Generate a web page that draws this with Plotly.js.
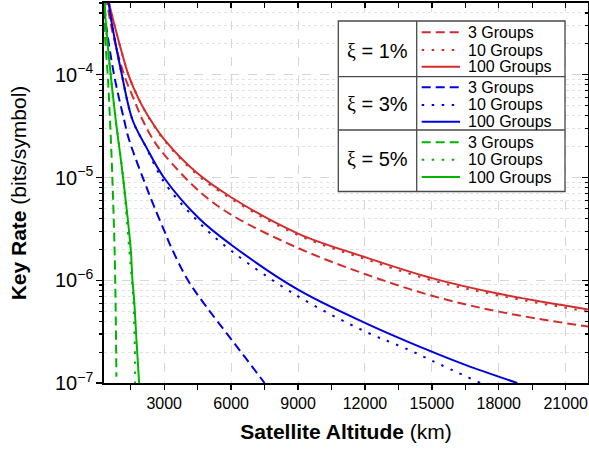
<!DOCTYPE html>
<html><head><meta charset="utf-8">
<script src="https://cdn.plot.ly/plotly-3.0.1.min.js"></script>
<style>html,body{margin:0;padding:0;background:#fff}</style>
</head><body><div id="chart" style="width:589px;height:456px"></div>
<script>
// ---- data ----
const r100Alt = [450, 525, 825, 1125, 1395, 1875, 2325, 3000, 4425, 6000, 9000, 12000, 15000, 18000, 22000];
const r100Val = [6e-4, 5e-4, 2.74e-4, 1.57e-4, 1e-4, 5.7e-5, 3.82e-5, 2.35e-5, 1.13e-5, 6.43e-6, 2.85e-6, 1.68e-6, 1.05e-6, 7.4e-7, 5.2e-7];
const r10Alt = [450, 525, 825, 1125, 1395, 1875, 2325, 3000, 4425, 6000, 9000, 12000, 15000, 18000, 22000];
const r10Val = [6e-4, 5e-4, 2.74e-4, 1.57e-4, 1e-4, 5.7e-5, 3.78e-5, 2.3e-5, 1.09e-5, 6.2e-6, 2.75e-6, 1.61e-6, 1.0e-6, 7.1e-7, 4.95e-7];
const r3Alt = [400, 450, 700, 1200, 1650, 2025, 2550, 3000, 4575, 6000, 9000, 12000, 15000, 18000, 22000];
const r3Val = [5.8e-4, 4.8e-4, 2.5e-4, 1e-4, 5.7e-5, 3.65e-5, 2.25e-5, 1.67e-5, 7.33e-6, 4.35e-6, 2.06e-6, 1.15e-6, 7.08e-7, 4.95e-7, 3.54e-7];

const b100Alt = [480, 555, 675, 1100, 1575, 2175, 3000, 4575, 6000, 9000, 12000, 14775, 16500, 18825];
const b100Val = [5.5e-4, 4.28e-4, 2.95e-4, 1e-4, 3.65e-5, 2.01e-5, 9.9e-6, 3.97e-6, 2.22e-6, 8.1e-7, 3.85e-7, 2.11e-7, 1.5e-7, 1e-7];
const b10Alt = [480, 555, 675, 1100, 1575, 2175, 3000, 4575, 6000, 9000, 12000, 13950, 15000, 17175];
const b10Val = [5.5e-4, 4.28e-4, 2.95e-4, 1e-4, 3.65e-5, 2.0e-5, 9.0e-6, 3.63e-6, 1.94e-6, 6.97e-7, 3.18e-7, 2.11e-7, 1.65e-7, 1e-7];
const b3Alt = [300, 345, 750, 1200, 1425, 2250, 2550, 3000, 3303, 4050, 4878, 6075, 7500];
const b3Val = [4.3e-4, 3.59e-4, 1e-4, 3.65e-5, 2.33e-5, 7.6e-6, 5.2e-6, 3.04e-6, 2.12e-6, 1.01e-6, 5.57e-7, 2.55e-7, 1e-7];

const g100Alt = [330, 405, 600, 825, 1155, 1500, 1575, 1650, 1755, 1875];
const g100Val = [5e-4, 2.74e-4, 1e-4, 3.65e-5, 1e-5, 1.99e-6, 1.01e-6, 6.47e-7, 2.64e-7, 1e-7];
const g10Alt = [330, 405, 600, 825, 1155, 1470, 1620, 1650, 1680, 1695];
const g10Val = [5e-4, 2.74e-4, 1e-4, 3.65e-5, 1e-5, 1.58e-6, 6.24e-7, 3.98e-7, 2.24e-7, 1e-7];
const g3Alt = [300, 390, 480, 560, 630, 690, 735, 775, 810, 830, 845, 855];
const g3Val = [3.2e-4, 1.7e-4, 9e-5, 4e-5, 1.8e-5, 8e-6, 4e-6, 2e-6, 8e-7, 4e-7, 2e-7, 1.15e-7];

const xTickVals = [3000, 6000, 9000, 12000, 15000, 18000, 21000];
const xTickText = ['3000', '6000', '9000', '12000', '15000', '18000', '21000'];
const groupLabels = ['3 Groups', '10 Groups', '100 Groups'];
const xiLabels = ['1%', '3%', '5%'];

// ---- styles ----
const RED = '#d42b2b', BLUE = '#0000e0', GREEN = '#00b400';
const DASH = '9px,5px', DOT = '2.5px,7.5px';
const LW = 2;
const FONT = 'Arial, "Liberation Sans", sans-serif';

function tr(x, y, color, dash) {
  return {x: x, y: y, type: 'scatter', mode: 'lines', hoverinfo: 'skip',
          line: {color: color, width: LW, dash: dash, shape: 'spline', smoothing: 1}, showlegend: false};
}
const traces = [
  tr(r3Alt, r3Val, RED, DASH), tr(r10Alt, r10Val, RED, DOT), tr(r100Alt, r100Val, RED, 'solid'),
  tr(b3Alt, b3Val, BLUE, DASH), tr(b10Alt, b10Val, BLUE, DOT), tr(b100Alt, b100Val, BLUE, 'solid'),
  tr(g3Alt, g3Val, GREEN, DASH), tr(g10Alt, g10Val, GREEN, DOT), tr(g100Alt, g100Val, GREEN, 'solid'),
  {x: [1000], y: [1e-5], xaxis: 'x2', yaxis: 'y', mode: 'markers', marker: {opacity: 0}, hoverinfo: 'skip', showlegend: false},
  {x: [1000], y: [1e-5], xaxis: 'x', yaxis: 'y2', mode: 'markers', marker: {opacity: 0}, hoverinfo: 'skip', showlegend: false}
];

// ---- legend (custom table) ----
const L = 104, PW = 484, T = 3, PH = 380;
const X = px => (px - L) / PW;
const Y = py => (T + PH - py) / PH;
const shapes = [];
const annotations = [];
const boxL = 338.3, boxR = 565, boxT = 21, boxB = 191.5, divX = 416.7;
const seps = [76.7, 130];
shapes.push({type: 'rect', xref: 'paper', yref: 'paper', x0: X(boxL), x1: X(boxR), y0: Y(boxB), y1: Y(boxT),
  fillcolor: 'white', line: {color: '#4a4a4a', width: 1.3}, layer: 'above'});
shapes.push({type: 'line', xref: 'paper', yref: 'paper', x0: X(divX), x1: X(divX), y0: Y(boxB), y1: Y(boxT),
  line: {color: '#4a4a4a', width: 1.3}, layer: 'above'});
seps.forEach(s => shapes.push({type: 'line', xref: 'paper', yref: 'paper', x0: X(boxL), x1: X(boxR), y0: Y(s), y1: Y(s),
  line: {color: '#4a4a4a', width: 1.3}, layer: 'above'}));
const rowsY = [[32.3, 50, 66.7], [87.3, 105, 121.7], [142.3, 159.7, 177]];
const xiY = [50.5, 104, 159];
const colors = [RED, BLUE, GREEN];
const dashes = [DASH, DOT, 'solid'];
for (let g = 0; g < 3; g++) {
  annotations.push({xref: 'paper', yref: 'paper', x: X(377), y: Y(xiY[g]), xanchor: 'center', yanchor: 'middle',
    showarrow: false, text: '<span style="font-family:\'Liberation Serif\',serif">ξ</span> = ' + xiLabels[g],
    font: {family: FONT, size: 20, color: '#000'}});
  for (let k = 0; k < 3; k++) {
    shapes.push({type: 'line', xref: 'paper', yref: 'paper', x0: X(421.7), x1: X(460), y0: Y(rowsY[g][k]), y1: Y(rowsY[g][k]),
      line: {color: colors[g], width: LW, dash: dashes[k]}, layer: 'above'});
    annotations.push({xref: 'paper', yref: 'paper', x: X(465.5), y: Y(rowsY[g][k]), xanchor: 'left', yanchor: 'middle',
      showarrow: false, text: groupLabels[k], font: {family: FONT, size: 16, color: '#000'}});
  }
}

const xRange = [300, 22000];
const yRange = [-7, Math.log10(5e-4)];
const layout = {
  width: 589, height: 456,
  margin: {l: L, r: 589 - L - PW, t: T, b: 456 - T - PH},
  paper_bgcolor: 'white', plot_bgcolor: 'white',
  font: {family: FONT, color: '#000'},
  showlegend: false,
  xaxis: {range: xRange, tickvals: xTickVals, ticktext: xTickText, ticks: 'outside', ticklen: 5, tickwidth: 1.3,
    tickcolor: '#000', showline: true, linecolor: '#000', linewidth: 1.6, mirror: true, zeroline: false,
    showgrid: true, gridcolor: '#d6d6d6', griddash: 'dash', gridwidth: 1,
    minor: {dtick: 1500, tick0: 0, ticks: 'outside', ticklen: 5, tickwidth: 1.3, tickcolor: '#000', showgrid: false},
    tickfont: {family: FONT, size: 16, color: '#000'},
    title: {text: '<b>Satellite Altitude</b> (km)', font: {family: FONT, size: 21, color: '#000'}, standoff: 13}},
  xaxis2: {range: xRange, overlaying: 'x', anchor: 'y', side: 'top', dtick: 1500, tick0: 0, ticks: 'inside', ticklen: 5,
    tickwidth: 1.3, tickcolor: '#000', showticklabels: false, showgrid: false, zeroline: false, showline: false},
  yaxis: {type: 'log', range: yRange, dtick: 1, exponentformat: 'power', ticks: 'outside', ticklen: 6, tickwidth: 1.3,
    tickcolor: '#000', showline: true, linecolor: '#000', linewidth: 1.6, mirror: true, zeroline: false,
    showgrid: true, gridcolor: '#d6d6d6', griddash: 'dash', gridwidth: 1,
    minor: {dtick: 'D1', ticks: 'outside', ticklen: 3.5, tickwidth: 1.1, tickcolor: '#000', showgrid: true,
      gridcolor: '#e2e2e2', griddash: 'dot', gridwidth: 1},
    tickfont: {family: FONT, size: 16, color: '#000'},
    title: {text: '<b>Key Rate</b> (bits/symbol)', font: {family: FONT, size: 21, color: '#000'}, standoff: 22}},
  yaxis2: {type: 'log', range: yRange, overlaying: 'y', anchor: 'x', side: 'right', dtick: 1, ticks: 'inside', ticklen: 6,
    tickwidth: 1.3, tickcolor: '#000', showticklabels: false, showgrid: false, zeroline: false, showline: false,
    minor: {dtick: 'D1', ticks: 'inside', ticklen: 3.5, tickwidth: 1.1, tickcolor: '#000', showgrid: false}},
  shapes: shapes,
  annotations: annotations
};
Plotly.newPlot('chart', traces, layout, {staticPlot: true, displayModeBar: false});
</script></body></html>
